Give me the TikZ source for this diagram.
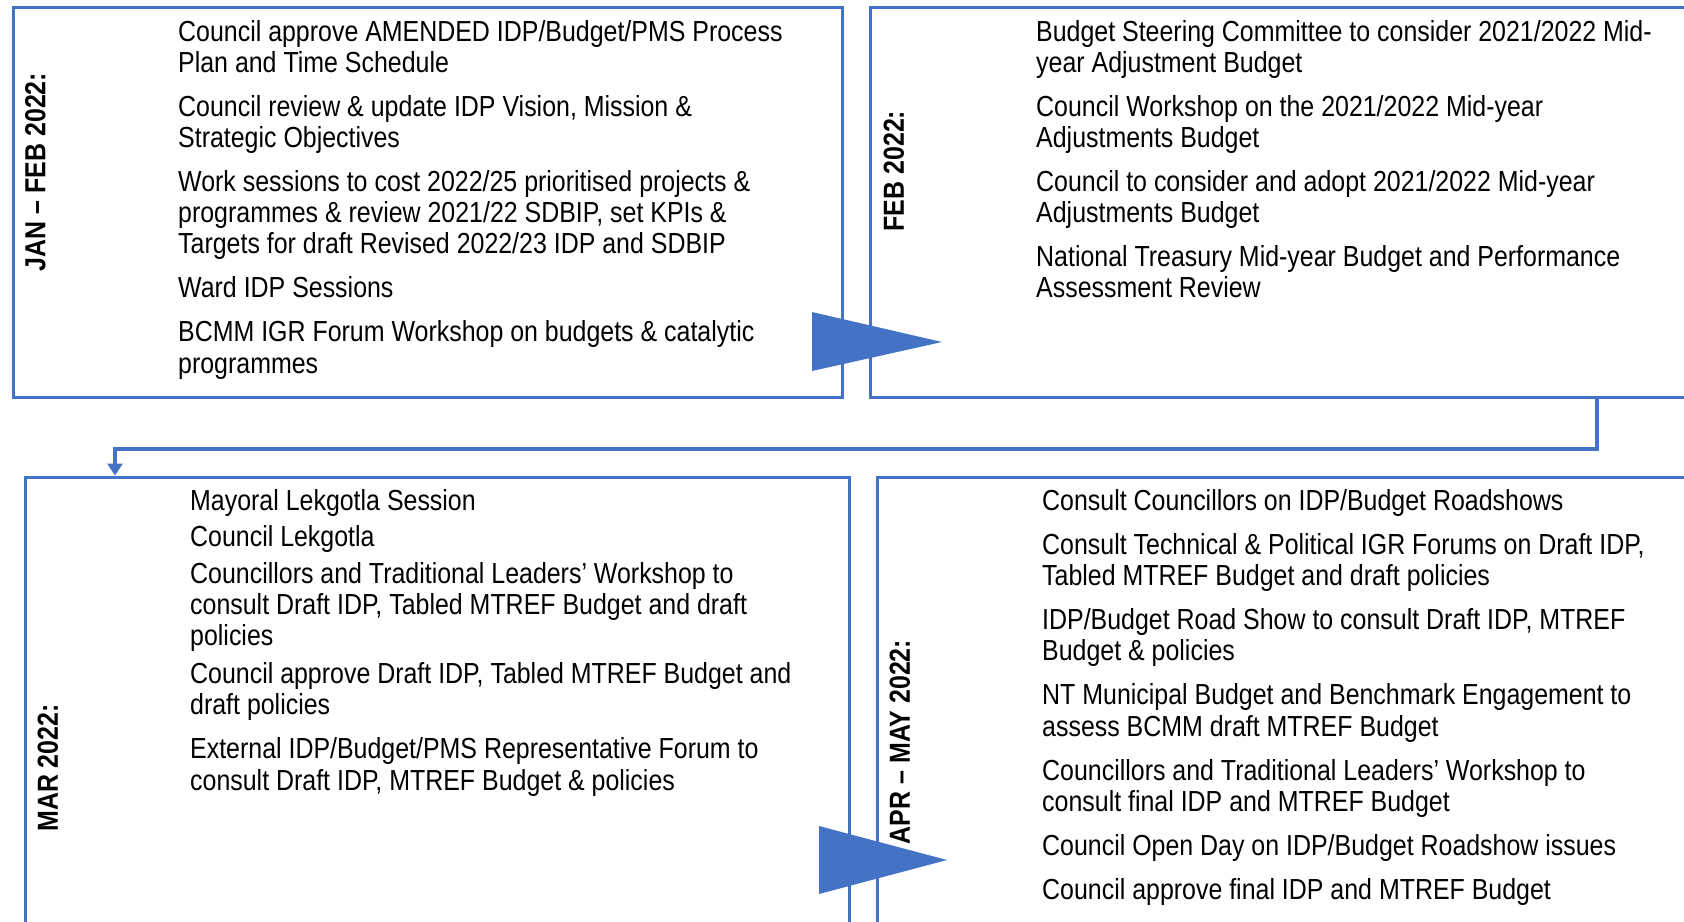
\documentclass[tikz,border=0pt]{standalone}
\usepackage{fontspec}
\setmainfont{Liberation Sans}[FakeStretch=0.86]
\usetikzlibrary{arrows.meta}
\definecolor{bl}{HTML}{4472C4}
\tikzset{
  box/.style={draw=bl, line width=3pt, inner sep=0pt},
  conn/.style={draw=bl, line width=4pt, -{Triangle[width=15pt,length=12pt]}},
  bigarrow/.style={fill=bl, draw=none},
  item/.style={anchor=base west, inner sep=0pt, font=\fontsize{29}{31.2}\selectfont},
  lbl/.style={rotate=90, font=\fontsize{29}{31.2}\selectfont\bfseries, inner sep=0pt}
}
\newcommand\itemlist[1]{\begin{tabular}[t]{@{}l@{}}#1\end{tabular}}
\begin{document}
\begin{tikzpicture}[x=1pt,y=-1pt]
\useasboundingbox (0,0) rectangle (1684,921);
\clip (0,0) rectangle (1684,921);
% boxes
\node[box, minimum width=829pt, minimum height=390pt] (b1) at (427.5,202) {};
\node[box, minimum width=840pt, minimum height=390pt] (b2) at (1290,202) {};
\node[box, minimum width=824pt, minimum height=480pt] (b3) at (437,717) {};
\node[box, minimum width=830pt, minimum height=480pt] (b4) at (1292,717) {};
% big arrows
\fill[bigarrow] (812,312) -- (942,342) -- (812,371) -- cycle;
\fill[bigarrow] (819,826) -- (947,860) -- (819,894) -- cycle;
% connector
\coordinate (c1) at (1597,0);
\coordinate (c2) at (115,0);
\draw[conn] (b2.south -| c1) -- ++(0,50) -| (b3.north -| c2);
% labels
\node[lbl] (l1) at (35.5,172) {JAN – FEB 2022:};
\node[lbl] (l2) at (894,171) {FEB 2022:};
\node[lbl] (l3) at (48,768) {MAR 2022:};
\node[lbl] (l4) at (900,742) {APR – MAY 2022:};
% texts
\node[item] (t1) at (178,41) {\itemlist{Council approve AMENDED IDP/Budget/PMS Process\\
Plan and Time Schedule\\[12.8pt]
Council review \& update IDP Vision, Mission \&\\
Strategic Objectives\\[12.8pt]
Work sessions to cost 2022/25 prioritised projects \&\\
programmes \& review 2021/22 SDBIP, set KPIs \&\\
Targets for draft Revised 2022/23 IDP and SDBIP\\[12.8pt]
Ward IDP Sessions\\[12.8pt]
BCMM IGR Forum Workshop on budgets \& catalytic\\
programmes}};
\node[item] (t2) at (1036,41) {\itemlist{Budget Steering Committee to consider 2021/2022 Mid-\\
year Adjustment Budget\\[12.8pt]
Council Workshop on the 2021/2022 Mid-year\\
Adjustments Budget\\[12.8pt]
Council to consider and adopt 2021/2022 Mid-year\\
Adjustments Budget\\[12.8pt]
National Treasury Mid-year Budget and Performance\\
Assessment Review}};
\node[item] (t3) at (190,510.5) {\itemlist{Mayoral Lekgotla Session\\[4.3pt]
Council Lekgotla\\[6.3pt]
Councillors and Traditional Leaders’ Workshop to\\
consult Draft IDP, Tabled MTREF Budget and draft\\
policies\\[6.4pt]
Council approve Draft IDP, Tabled MTREF Budget and\\
draft policies\\[12.9pt]
External IDP/Budget/PMS Representative Forum to\\
consult Draft IDP, MTREF Budget \& policies}};
\node[item] (t4) at (1042,510.5) {\itemlist{Consult Councillors on IDP/Budget Roadshows\\[12.8pt]
Consult Technical \& Political IGR Forums on Draft IDP,\\
Tabled MTREF Budget and draft policies\\[12.8pt]
IDP/Budget Road Show to consult Draft IDP, MTREF\\
Budget \& policies\\[12.8pt]
NT Municipal Budget and Benchmark Engagement to\\
assess BCMM draft MTREF Budget\\[12.8pt]
Councillors and Traditional Leaders’ Workshop to\\
consult final IDP and MTREF Budget\\[12.8pt]
Council Open Day on IDP/Budget Roadshow issues\\[12.8pt]
Council approve final IDP and MTREF Budget}};
\end{tikzpicture}
\end{document}
